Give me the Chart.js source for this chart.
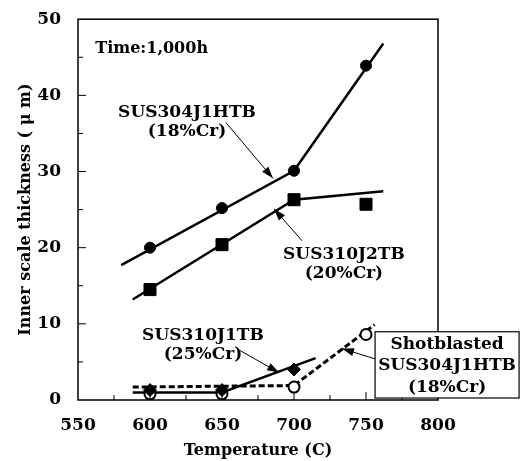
<!DOCTYPE html>
<html>
<head>
<meta charset="utf-8">
<script src="https://cdn.jsdelivr.net/npm/chart.js@4.4.1/dist/chart.umd.min.js"></script>
<style>
  html, body { margin: 0; padding: 0; background: #fff; }
  #wrap { width: 531px; height: 461px; }
</style>
</head>
<body>
<div id="wrap"><canvas id="chart" width="531" height="461"></canvas></div>
<script>
// measured points
const temps = [600, 650, 700, 750];
const sus304j1htb = [20.0, 25.2, 30.1, 43.9];
const sus310j2tb = [14.5, 20.4, 26.3, 25.7];
const sus310j1tbTemps = [600, 650, 700];
const sus310j1tb = [1.3, 1.3, 4.0];
const shotblasted = [0.8, 0.8, 1.7, 8.6];

// hand drawn trend lines
const fit304X = [580, 700, 762];
const fit304Y = [17.7, 30.1, 46.8];
const fit310j2X = [588, 700, 762];
const fit310j2Y = [13.2, 26.3, 27.4];
const fit310j1X = [588, 650, 715];
const fit310j1Y = [1.0, 1.0, 5.5];
const fitShotX = [588, 700, 756];
const fitShotY = [1.7, 1.9, 9.9];

const xTicks = [550, 600, 650, 700, 750, 800];
const yTicks = [0, 10, 20, 30, 40, 50];

const serif = '"DejaVu Serif", "Liberation Serif", serif';

function pts(xs, ys) {
    return xs.map((x, i) => ({ x: x, y: ys[i] }));
}

function lineSet(xs, ys, dashed) {
    return {
        data: pts(xs, ys),
        showLine: true,
        borderColor: '#000',
        borderWidth: dashed ? 3 : 2.5,
        borderDash: dashed ? [6, 3] : [],
        pointRadius: 0,
        order: 5
    };
}

function markerSet(xs, ys, style, fill, r, bw, order) {
    return {
        data: pts(xs, ys),
        showLine: false,
        pointStyle: style,
        pointRadius: r,
        pointBackgroundColor: fill,
        pointBorderColor: '#000',
        pointBorderWidth: bw,
        order: order
    };
}

// labels and arrows, placed in data units
const notes = [
    { lines: ['Time:1,000h'], x: 562, y: 46.1, align: 'left' },
    { lines: ['SUS304J1HTB', '(18%Cr)'], x: 625.7, y: 37.8 },
    { lines: ['SUS310J2TB', '(20%Cr)'], x: 734.7, y: 19.1 },
    { lines: ['SUS310J1TB', '(25%Cr)'], x: 636.8, y: 8.4 }
];
const arrows = [
    [652.8, 36.4, 685.4, 29.1],
    [705.6, 20.9, 686.1, 25.1],
    [662.5, 6.5, 689.6, 3.6],
    [759.7, 5.2, 733.3, 6.75]
];
const boxNote = { lines: ['Shotblasted', 'SUS304J1HTB', '(18%Cr)'], x: 806.3, y: 7.3, x0: 756.3, x1: 856.3, y0: 8.96, y1: 0.26 };

const decor = {
    id: 'decor',
    afterDatasetsDraw(chart) {
        const ctx = chart.ctx;
        const xs = chart.scales.x, ys = chart.scales.y;
        const a = chart.chartArea;
        ctx.save();
        ctx.strokeStyle = '#000';
        ctx.lineWidth = 1.5;
        ctx.strokeRect(a.left, a.top, a.right - a.left, a.bottom - a.top);

        // inward ticks
        ctx.lineWidth = 1;
        for (let v = 575; v < 800; v += 25) {
            const px = xs.getPixelForValue(v);
            const len = v % 50 === 0 ? 8 : 5;
            ctx.beginPath();
            ctx.moveTo(px, a.bottom);
            ctx.lineTo(px, a.bottom - len);
            ctx.stroke();
        }
        for (let v = 5; v < 50; v += 5) {
            const py = ys.getPixelForValue(v);
            const len = v % 10 === 0 ? 8 : 5;
            ctx.beginPath();
            ctx.moveTo(a.left, py);
            ctx.lineTo(a.left + len, py);
            ctx.stroke();
        }

        // arrows
        arrows.forEach(([x0, y0, x1, y1]) => {
            const p0x = xs.getPixelForValue(x0), p0y = ys.getPixelForValue(y0);
            const p1x = xs.getPixelForValue(x1), p1y = ys.getPixelForValue(y1);
            const ang = Math.atan2(p1y - p0y, p1x - p0x);
            ctx.lineWidth = 1;
            ctx.beginPath();
            ctx.moveTo(p0x, p0y);
            ctx.lineTo(p1x, p1y);
            ctx.stroke();
            ctx.beginPath();
            ctx.moveTo(p1x, p1y);
            ctx.lineTo(p1x - 12 * Math.cos(ang) + 4 * Math.sin(ang), p1y - 12 * Math.sin(ang) - 4 * Math.cos(ang));
            ctx.lineTo(p1x - 12 * Math.cos(ang) - 4 * Math.sin(ang), p1y - 12 * Math.sin(ang) + 4 * Math.cos(ang));
            ctx.closePath();
            ctx.fillStyle = '#000';
            ctx.fill();
        });

        ctx.fillStyle = '#000';
        ctx.textBaseline = 'middle';
        ctx.font = 'bold 17px ' + serif;
        notes.forEach(n => {
            ctx.textAlign = n.align || 'center';
            if (n.align) ctx.font = 'bold 16px ' + serif;
            else ctx.font = 'bold 17px ' + serif;
            n.lines.forEach((t, i) => {
                ctx.fillText(t, xs.getPixelForValue(n.x), ys.getPixelForValue(n.y) + i * 19);
            });
        });

        // boxed label for the shotblasted tube
        const bx0 = xs.getPixelForValue(boxNote.x0), bx1 = xs.getPixelForValue(boxNote.x1);
        const by0 = ys.getPixelForValue(boxNote.y0), by1 = ys.getPixelForValue(boxNote.y1);
        ctx.fillStyle = '#fff';
        ctx.fillRect(bx0, by0, bx1 - bx0, by1 - by0);
        ctx.lineWidth = 1.2;
        ctx.strokeRect(bx0, by0, bx1 - bx0, by1 - by0);
        ctx.fillStyle = '#000';
        ctx.textAlign = 'center';
        ctx.font = 'bold 17px ' + serif;
        boxNote.lines.forEach((t, i) => {
            ctx.fillText(t, xs.getPixelForValue(boxNote.x), ys.getPixelForValue(boxNote.y) + i * 21.5);
        });
        ctx.restore();
    }
};

new Chart(document.getElementById('chart'), {
    type: 'scatter',
    data: {
        datasets: [
            markerSet(temps, sus304j1htb, 'circle', '#000', 5.5, 1, 1),
            markerSet(temps, sus310j2tb, 'rect', '#000', 8.5, 1, 1),
            markerSet(sus310j1tbTemps, sus310j1tb, 'rectRot', '#000', 6.5, 1, 1),
            markerSet(temps, shotblasted, 'circle', '#fff', 5.5, 2, 2),
            lineSet(fit304X, fit304Y, false),
            lineSet(fit310j2X, fit310j2Y, false),
            lineSet(fit310j1X, fit310j1Y, false),
            lineSet(fitShotX, fitShotY, true)
        ]
    },
    options: {
        responsive: false,
        animation: false,
        layout: { padding: { top: 15, right: 93, bottom: 0, left: 0 } },
        plugins: { legend: { display: false }, tooltip: { enabled: false } },
        scales: {
            x: {
                type: 'linear',
                min: 550,
                max: 800,
                afterFit: s => { s.height = 61; },
                afterBuildTicks: s => { s.ticks = xTicks.map(v => ({ value: v })); },
                grid: { display: false },
                border: { display: false },
                ticks: { color: '#000', padding: 7, font: { family: serif, size: 17, weight: 'bold' } },
                title: {
                    display: true,
                    text: 'Temperature (C)',
                    color: '#000',
                    padding: { top: 0, bottom: 1 },
                    font: { family: serif, size: 16, weight: 'bold' }
                }
            },
            y: {
                type: 'linear',
                min: 0,
                max: 50,
                afterFit: s => { s.width = 78; },
                afterBuildTicks: s => { s.ticks = yTicks.map(v => ({ value: v })); },
                grid: { display: false },
                border: { display: false },
                ticks: { color: '#000', padding: 9, font: { family: serif, size: 17, weight: 'bold' } },
                title: {
                    display: true,
                    text: 'Inner scale thickness ( \u03bc m)',
                    color: '#000',
                    padding: { top: 16, bottom: 0 },
                    font: { family: serif, size: 16, weight: 'bold' }
                }
            }
        }
    },
    plugins: [decor]
});
</script>
</body>
</html>
